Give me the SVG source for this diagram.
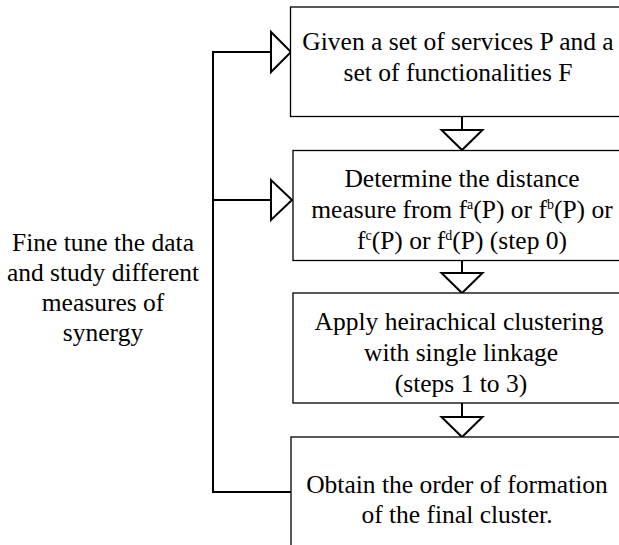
<svg xmlns="http://www.w3.org/2000/svg" width="619" height="545" viewBox="0 0 619 545">
<style>
.box{fill:#fff;stroke:#000;stroke-width:1.3}
.t{font-family:'Liberation Serif','Times New Roman',serif;font-size:25.5px;fill:#000;text-anchor:middle}
.sup{font-size:14px}
.ln{fill:none;stroke:#000;stroke-width:2}
.tri{fill:#fff;stroke:#000;stroke-width:2;stroke-linejoin:miter}
</style>
<rect x="0" y="0" width="619" height="545" fill="#fff"/>
<g id="connectors">
<path class="ln" d="M291 492 H213 V52 H272"/>
<path class="ln" d="M213 200 H272"/>
<polygon class="tri" points="271,32 271,72 291,52"/>
<polygon class="tri" points="271,180 271,220 292,200"/>
<path class="ln" d="M462 116 V130"/>
<polygon class="tri" points="441.5,130 482.5,130 462,150"/>
<path class="ln" d="M462 261 V273"/>
<polygon class="tri" points="441.5,273 482.5,273 462,293"/>
<path class="ln" d="M462 403 V417"/>
<polygon class="tri" points="441.5,417 482.5,417 462,437"/>
</g>
<g id="node1">
<rect class="box" x="290.5" y="7" width="360" height="109.5"/>
<text class="t" x="458" y="50">Given a set of services P and a</text>
<text class="t" x="458" y="81">set of functionalities F</text>
</g>
<g id="node2">
<rect class="box" x="293" y="150.5" width="360" height="110"/>
<text class="t" x="462" y="187">Determine the distance</text>
<text class="t" x="462" y="218">measure from f<tspan class="sup" dy="-9">a</tspan><tspan dy="9">(P) or f</tspan><tspan class="sup" dy="-9">b</tspan><tspan dy="9">(P) or</tspan></text>
<text class="t" x="462" y="249">f<tspan class="sup" dy="-9">c</tspan><tspan dy="9">(P) or f</tspan><tspan class="sup" dy="-9">d</tspan><tspan dy="9">(P) (step 0)</tspan></text>
</g>
<g id="node3">
<rect class="box" x="293" y="293" width="360" height="110"/>
<text class="t" x="459" y="330">Apply heirachical clustering</text>
<text class="t" x="461" y="361">with single linkage</text>
<text class="t" x="461" y="392">(steps 1 to 3)</text>
</g>
<g id="node4">
<rect class="box" x="291" y="437" width="360" height="140"/>
<text class="t" x="457" y="493">Obtain the order of formation</text>
<text class="t" x="457" y="523">of the final cluster.</text>
</g>
<g id="label">
<text class="t" x="103" y="251">Fine tune the data</text>
<text class="t" x="103" y="281">and study different</text>
<text class="t" x="103" y="311">measures of</text>
<text class="t" x="103" y="341">synergy</text>
</g>
</svg>
